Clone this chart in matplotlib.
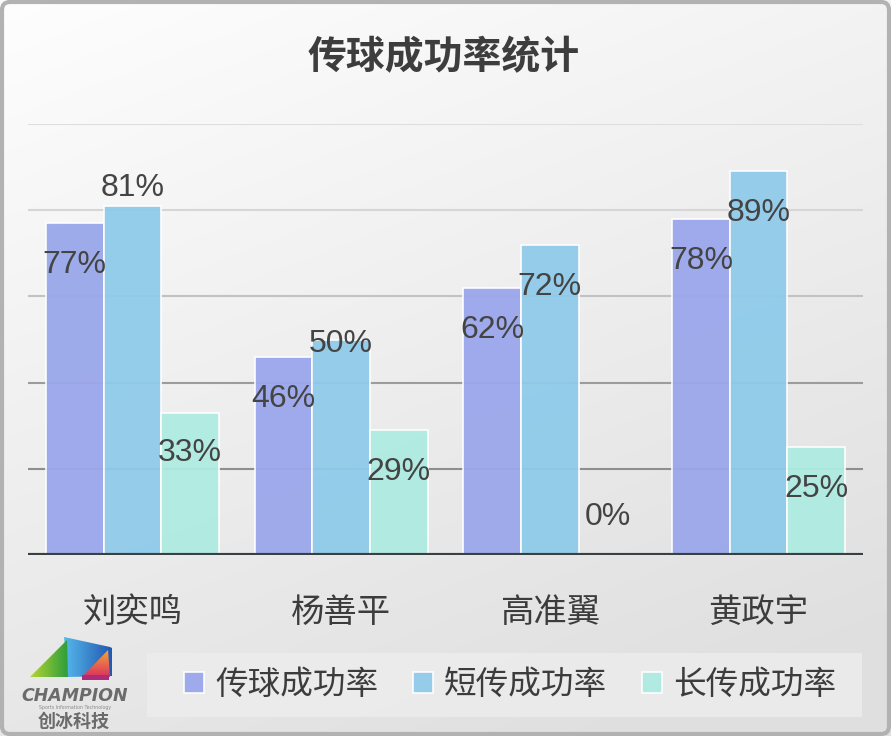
import numpy as np
import matplotlib
matplotlib.use("Agg")
import matplotlib.pyplot as plt
from matplotlib.patches import FancyBboxPatch, Rectangle, Polygon
from matplotlib.colors import LinearSegmentedColormap

# ---- data ----
players = ['刘奕鸣', '杨善平', '高准翼', '黄政宇']
series_names = ['传球成功率', '短传成功率', '长传成功率']
pass_rate = [77, 46, 62, 78]
short_rate = [81, 50, 72, 89]
long_rate = [33, 29, 0, 25]
title = '传球成功率统计'

# ---- styles ----
colors = ['#9aa7eb', '#8fcbea', '#aeebe1']
label_dy = [[-42, -42, -42, -42], [18, -4, -42, -42], [-40, -42, 38, -42]]
CJK = ['Noto Sans CJK SC', 'DejaVu Sans']
W, H = 891, 736

fig = plt.figure(figsize=(W / 100, H / 100), dpi=100)

# background gradient
bg = fig.add_axes([0, 0, 1, 1], zorder=-10)
yy, xx = np.mgrid[0:1:200j, 0:1:200j]
t = np.clip(0.35 * xx + 0.75 * yy, 0, 1)
val = 0.995 - 0.12 * t
bg.imshow(np.dstack([val, val, val]), extent=[0, W, H, 0], aspect='auto', interpolation='bilinear')
bg.set_xlim(0, W)
bg.set_ylim(H, 0)
bg.axis('off')
bg.add_patch(FancyBboxPatch((2, 2), W - 4, H - 4, boxstyle='round,pad=0,rounding_size=8',
                            fill=False, edgecolor='#b2b2b2', linewidth=3))
# legend box
bg.add_patch(Rectangle((147, 653), 715, 64, facecolor='#ececec', edgecolor='none', alpha=0.9))


def grad_poly(axis, pts, c0, c1, direction='x'):
    poly = Polygon(pts, closed=True, facecolor='none', edgecolor='none')
    axis.add_patch(poly)
    xs = [p[0] for p in pts]
    ys = [p[1] for p in pts]
    cmap = LinearSegmentedColormap.from_list('g', [c0, c1])
    g = np.linspace(0, 1, 64)
    arr = g[None, :] if direction == 'x' else g[:, None]
    im = axis.imshow(arr, cmap=cmap, extent=[min(xs), max(xs), max(ys), min(ys)],
                     aspect='auto', interpolation='bilinear', zorder=3)
    im.set_clip_path(poly)


# logo (simplified)
grad_poly(bg, [(64, 637), (110, 647), (112, 648), (112, 676), (68, 677)], '#55b8ec', '#2358b0')
grad_poly(bg, [(30, 677), (67, 640), (68, 677)], '#b5d531', '#2f9e3c')
grad_poly(bg, [(82, 677), (108, 650), (110, 677)], '#f5a53a', '#d8325e', direction='y')
bg.add_patch(Rectangle((82, 675), 27, 5, facecolor='#b02a78', edgecolor='none', zorder=4))
bg.text(75, 696, 'CHAMPION', ha='center', va='center', fontsize=12.5, fontweight='heavy',
        style='italic', color='#6b6b6b', family='DejaVu Sans')
bg.text(75, 708, 'Sports Information Technology', ha='center', va='center', fontsize=3.4,
        color='#8a8a8a', family='DejaVu Sans')
bg.text(74, 721, '创冰科技', ha='center', va='center', fontsize=13, fontweight='bold',
        color='#6b6b6b', family=CJK)

# main axes
ax = fig.add_axes([28 / W, (H - 555) / H, (863 - 28) / W, (555 - 124) / H])
ax.patch.set_alpha(0)
ax.set_xlim(-0.5, len(players) - 0.5)
ax.set_ylim(0, 100)

grid_levels = [20, 40, 60, 80, 100]
grid_colors = ['#8e8e8e', '#9c9c9c', '#c2c2c2', '#d6d6d6', '#dedede']
for g, c in zip(grid_levels, grid_colors):
    ax.axhline(g, color=c, linewidth=1.5, zorder=1)
ax.axhline(0, color='#3a3f44', linewidth=3, zorder=4)

x = np.arange(len(players))
bw = 0.276
all_series = [pass_rate, short_rate, long_rate]
for i, (vals, name, col) in enumerate(zip(all_series, series_names, colors)):
    pos = x + (i - 1) * bw
    ax.bar(pos, vals, width=bw, color=col, edgecolor='white', linewidth=1.2,
           label=name, zorder=2, alpha=0.95)
    for j, (px, v) in enumerate(zip(pos, vals)):
        ax.annotate(f'{v}%', (px, v), xytext=(0, label_dy[i][j]), textcoords='offset pixels',
                    ha='center', va='center', fontsize=23, color='#444444',
                    family='Liberation Sans', zorder=5)

ax.set_xticks(x)
ax.set_xticklabels(players, fontsize=24, color='#3c3c3c', family=CJK)
ax.tick_params(axis='x', length=0, pad=29)
ax.set_yticks([])
for s in ax.spines.values():
    s.set_visible(False)

fig.text(444 / W, 1 - 58 / H, title, ha='center', va='center', fontsize=28,
         fontweight='bold', color='#3d3d3d', family=CJK)

leg = ax.legend(loc='center', bbox_to_anchor=(510 / W, 1 - 685 / H), bbox_transform=fig.transFigure,
                ncol=3, frameon=False, prop={'family': CJK, 'size': 23.5},
                handlelength=0.62, handleheight=0.62, handletextpad=0.35, columnspacing=1.05,
                labelcolor='#3c3c3c')

fig.savefig('out.png', dpi=100)
